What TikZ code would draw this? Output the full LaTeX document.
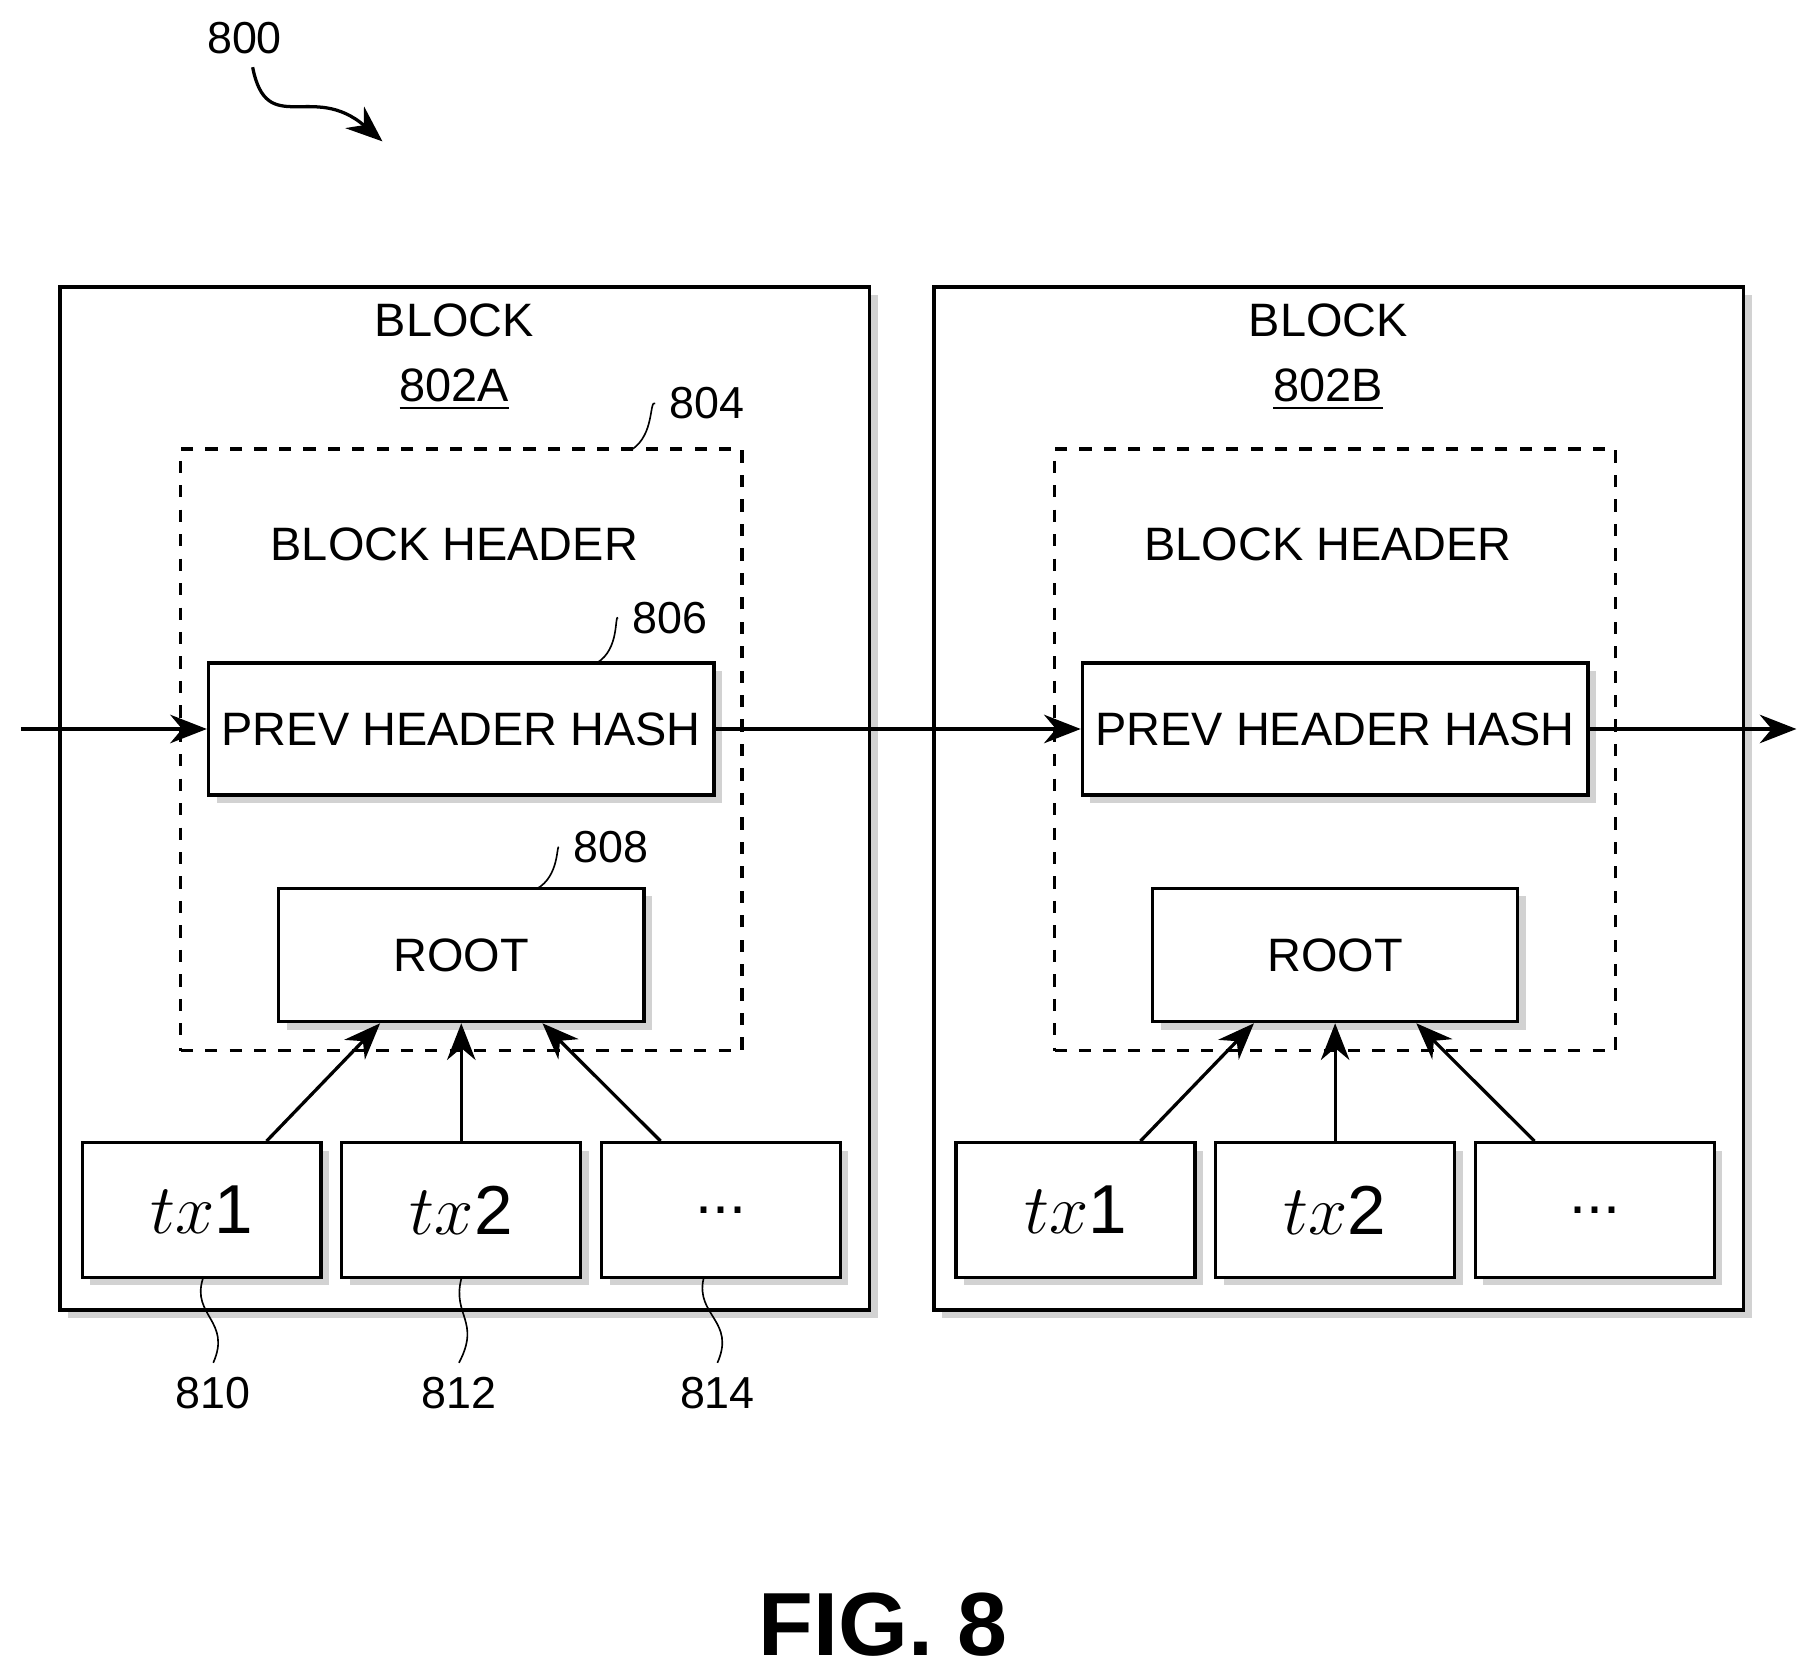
\documentclass[tikz,border=0pt]{standalone}
\usepackage{fontspec}
\setmainfont{Liberation Sans}
\usetikzlibrary{positioning,shadows,arrows.meta}

\begin{document}
\begin{tikzpicture}[x=0.01cm,y=-0.01cm,
      box/.style={draw,thick,fill=white,drop shadow={shadow xshift=2pt,shadow yshift=-2pt,fill=gray!70},inner sep=0pt,font=\fontsize{11.5}{13}\selectfont},
      hdr/.style={draw,dashed,thick,inner sep=0pt},
      lbl/.style={font=\fontsize{11}{13}\selectfont},
      arr/.style={-{Stealth[length=9pt,width=7pt]},thick}]
      \useasboundingbox (0,0) rectangle (1560,1446);

      % blocks
      \node[box, minimum width=6.98cm, minimum height=8.82cm] (blkA) at (401,689) {};
      \node[box, minimum width=6.98cm, minimum height=8.82cm] (blkB) at (1155,689) {};
      \node[align=center, font=\fontsize{11.5}{16}\selectfont] (tA) at (392,308) {BLOCK\\\underline{802A}};
      \node[align=center, font=\fontsize{11.5}{16}\selectfont] (tB) at (1146,308) {BLOCK\\\underline{802B}};

      % headers
      \node[hdr, minimum width=4.84cm, minimum height=5.19cm] (hdrA) at (398,647) {};
      \node[hdr, minimum width=4.84cm, minimum height=5.19cm] (hdrB) at (1152,647) {};
      \node[font=\fontsize{11.5}{13}\selectfont] (htA) at (392,470) {BLOCK HEADER};
      \node[font=\fontsize{11.5}{13}\selectfont] (htB) at (1146,470) {BLOCK HEADER};

      \node[box, minimum width=4.36cm, minimum height=1.14cm] (prevA) at (398,629) {PREV HEADER HASH};
      \node[box, minimum width=4.36cm, minimum height=1.14cm] (prevB) at (1152,629) {PREV HEADER HASH};
      \node[box, minimum width=3.15cm, minimum height=1.15cm] (rootA) at (398,824) {ROOT};
      \node[box, minimum width=3.15cm, minimum height=1.15cm] (rootB) at (1152,824) {ROOT};

      % transactions
      \foreach \b/\x in {A/0,B/754} {
        \node[box, minimum width=2.06cm, minimum height=1.16cm] (tx1\b) at (174+\x,1044) {\fontsize{17}{20}\selectfont$tx$1};
        \node[box, minimum width=2.06cm, minimum height=1.16cm] (tx2\b) at (398+\x,1044) {\fontsize{17}{20}\selectfont$tx$2};
        \node[box, minimum width=2.06cm, minimum height=1.16cm] (tx3\b) at (622+\x,1044) {\fontsize{15}{18}\selectfont...};
        \draw[arr] ([xshift=0.56cm]tx1\b.north) -- ([xshift=-0.7cm]root\b.south);
        \draw[arr] (tx2\b.north) -- (root\b.south);
        \draw[arr] ([xshift=-0.52cm]tx3\b.north) -- ([xshift=0.7cm]root\b.south);
      }

      % chain
      \coordinate (in) at (18,629);
      \coordinate (out) at (1550,629);
      \draw[arr] (in) -- (prevA.west);
      \draw[arr] (prevA.east) -- (prevB.west);
      \draw[arr] (prevB.east) -- (out);

      % reference numerals
      \node[lbl] (n800) at (211,33) {800};
      \draw[arr] (218,58) .. controls (230,120) and (270,70) .. (330,122);
      \node[lbl] (n804) at (610,348) {804};
      \draw (n804.west) .. controls (560,345) and (565,375) .. (545,388);
      \node[lbl] (n806) at (578,533) {806};
      \draw (n806.west) .. controls (530,530) and (535,560) .. (515,572);
      \node[lbl] (n808) at (527,731) {808};
      \draw (n808.west) .. controls (480,728) and (483,756) .. (463,767);
      \node[lbl] (n810) at (184,1202) {810};
      \draw ([xshift=0.01cm]tx1A.south) .. controls (165,1135) and (200,1140) .. (n810.north);
      \node[lbl] (n812) at (396,1202) {812};
      \draw (tx2A.south) .. controls (390,1135) and (415,1140) .. (n812.north);
      \node[lbl] (n814) at (619,1202) {814};
      \draw ([xshift=-0.15cm]tx3A.south) .. controls (600,1135) and (635,1140) .. (n814.north);

      \node[font=\bfseries\fontsize{22}{26}\selectfont] (fig) at (762,1402) {FIG. 8};
\end{tikzpicture}
\end{document}
